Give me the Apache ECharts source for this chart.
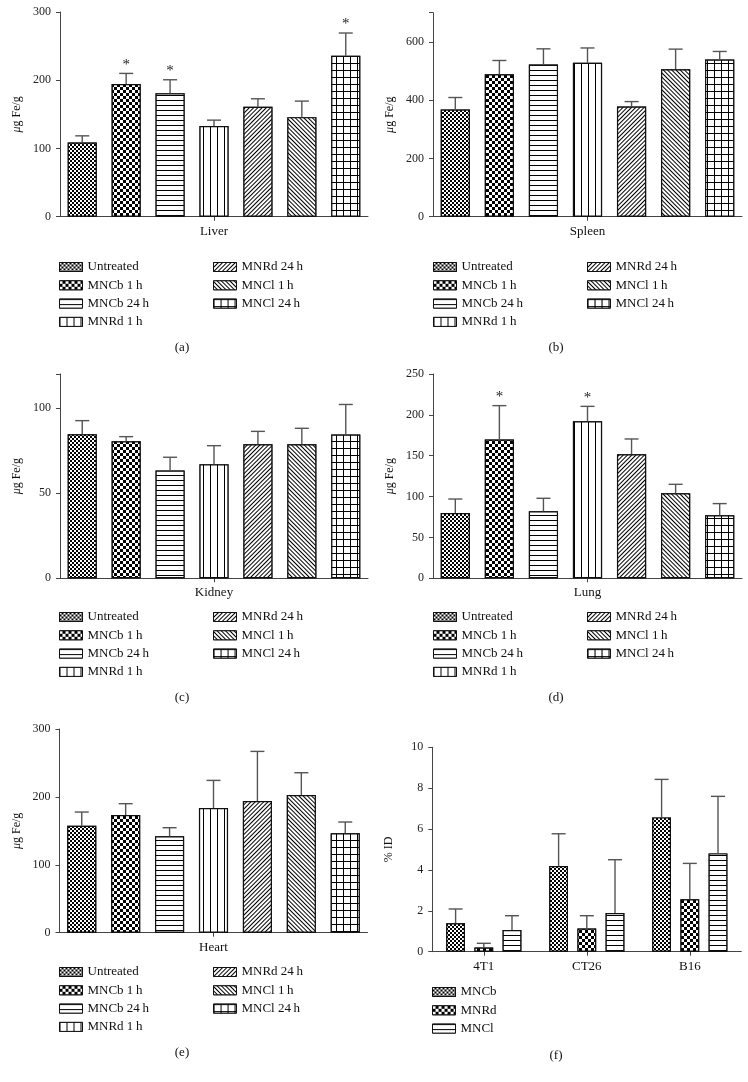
<!DOCTYPE html>
<html><head><meta charset="utf-8">
<script src="https://cdn.jsdelivr.net/npm/echarts/dist/echarts.min.js"></script>
<style>html,body{margin:0;padding:0;background:#fff}#c{width:748px;height:1082px}</style>
</head><body><div id="c"></div><script>
// ---------------- DATA ----------------
const organs = ['Liver', 'Spleen', 'Kidney', 'Lung', 'Heart'];
const treatments = ['Untreated', 'MNCb 1\u2009h', 'MNCb 24\u2009h', 'MNRd 1\u2009h', 'MNRd 24\u2009h', 'MNCl 1\u2009h', 'MNCl 24\u2009h'];

const liverMean  = [108.7, 194.3, 181.0, 133.0, 161.0, 145.9, 236.0];
const liverErr   = [9.8, 15.7, 19.7, 8.5, 11.8, 23.5, 33.2];
const liverSig   = [0, 1, 1, 0, 0, 0, 1];

const spleenMean = [368, 489, 522, 528, 378, 506, 539];
const spleenErr  = [41, 47, 54, 51, 17, 69, 28];
const spleenSig  = [0, 0, 0, 0, 0, 0, 0];

const kidneyMean = [84.6, 80.5, 63.3, 67.0, 78.7, 78.7, 84.4];
const kidneyErr  = [8.0, 2.7, 7.8, 10.9, 7.6, 9.4, 17.7];
const kidneySig  = [0, 0, 0, 0, 0, 0, 0];

const lungMean   = [79.9, 169.7, 82.0, 192.1, 151.7, 104.0, 77.1];
const lungErr    = [17.1, 41.6, 15.9, 18.3, 18.8, 11.0, 14.3];
const lungSig    = [0, 1, 0, 1, 0, 0, 0];

const heartMean  = [157.6, 173.3, 141.9, 183.6, 193.9, 202.7, 146.3];
const heartErr   = [20.1, 16.7, 12.7, 40.7, 73.1, 32.9, 16.7];
const heartSig   = [0, 0, 0, 0, 0, 0, 0];

const tumors = ['4T1', 'CT26', 'B16'];
const formulations = ['MNCb', 'MNRd', 'MNCl'];
const idMNCb = [1.39, 4.19, 6.57];
const idMNCbErr = [0.70, 1.58, 1.86];
const idMNRd = [0.20, 1.13, 2.56];
const idMNRdErr = [0.21, 0.63, 1.76];
const idMNCl = [1.06, 1.89, 4.81];
const idMNClErr = [0.70, 2.61, 2.79];

const yMax  = [300, 700, 120, 250, 300, 10];
const yStep = [100, 200, 50, 50, 100, 2];
const yNames = ['{i|\u03bc}g Fe/g', '{i|\u03bc}g Fe/g', '{i|\u03bc}g Fe/g', '{i|\u03bc}g Fe/g', '{i|\u03bc}g Fe/g', '% ID'];
const captions = ['(a)', '(b)', '(c)', '(d)', '(e)', '(f)'];

// ---------------- STYLE / LAYOUT ----------------
const SERIF = '"Liberation Serif", "DejaVu Serif", serif';
const AX = '#444';
const grids = [
  {left: 60,  top: 12,  width: 308, height: 204.7},
  {left: 433, top: 12.7, width: 309, height: 204},
  {left: 60,  top: 374, width: 308, height: 204.3},
  {left: 433, top: 374, width: 309, height: 204.3},
  {left: 59.5, top: 729, width: 308, height: 203.7},
  {left: 432.3, top: 747.3, width: 309, height: 204.4}
];
const decals = [
  {symbol: 'rect', symbolSize: 1, dashArrayX: [[2, 2], [0, 2, 2, 0]], dashArrayY: [2, 0], color: '#000', backgroundColor: '#fff'},
  {symbol: 'rect', symbolSize: 1, dashArrayX: [[3, 3], [0, 3, 3, 0]], dashArrayY: [3, 0], color: '#000', backgroundColor: '#fff'},
  {symbol: 'rect', symbolSize: 1, dashArrayX: [1, 0], dashArrayY: [1, 3.3], color: '#000', backgroundColor: '#fff'},
  {symbol: 'rect', symbolSize: 1, dashArrayX: [1, 6], dashArrayY: [1, 0], color: '#000', backgroundColor: '#fff'},
  {symbol: 'rect', symbolSize: 1, dashArrayX: [1, 0], dashArrayY: [1, 2], rotation: -Math.PI / 4, color: '#000', backgroundColor: '#fff'},
  {symbol: 'rect', symbolSize: 1, dashArrayX: [1, 0], dashArrayY: [1, 2], rotation: Math.PI / 4, color: '#000', backgroundColor: '#fff'},
  {symbol: 'rect', symbolSize: 1, dashArrayX: [[1, 0], [1, 6]], dashArrayY: [1, 0, 6, 0], color: '#000', backgroundColor: '#fff'}
];

const organMeans = [liverMean, spleenMean, kidneyMean, lungMean, heartMean];
const organErrs  = [liverErr, spleenErr, kidneyErr, lungErr, heartErr];
const organSigs  = [liverSig, spleenSig, kidneySig, lungSig, heartSig];

function errRenderer(n, catGap, barGap) {
  return function (params, api) {
    const cat = api.value(0), idx = api.value(1), mean = api.value(2), err = api.value(3), sig = api.value(4);
    const band = api.size([1, 0])[0];
    const usable = band * (1 - catGap);
    const bw = usable / (n + (n - 1) * barGap);
    const cx = api.coord([cat, 0])[0] - usable / 2 + idx * bw * (1 + barGap) + bw / 2;
    const yTop = api.coord([cat, mean + err])[1];
    const yMean = api.coord([cat, mean])[1];
    const ls = {stroke: '#555', lineWidth: 1.4};
    const children = [
      {type: 'line', shape: {x1: cx, y1: yMean, x2: cx, y2: yTop}, style: ls},
      {type: 'line', shape: {x1: cx - 7, y1: yTop, x2: cx + 7, y2: yTop}, style: ls}
    ];
    if (sig) {
      children.push({type: 'text', x: cx, y: yTop - 1,
        style: {text: '*', fill: '#222', font: '15px ' + SERIF, textAlign: 'center', textVerticalAlign: 'bottom'}});
    }
    return {type: 'group', children};
  };
}

const xAxes = [], yAxes = [], series = [], legends = [], graphics = [];
for (let p = 0; p < 6; p++) {
  xAxes.push({
    type: 'category', gridIndex: p,
    data: p < 5 ? [organs[p]] : tumors,
    axisLine: {lineStyle: {color: AX, width: 1}},
    axisTick: {show: true, alignWithLabel: true, length: 4, lineStyle: {color: AX}},
    axisLabel: {fontFamily: SERIF, fontSize: 13, color: '#111', margin: 8}
  });
  yAxes.push({
    type: 'value', gridIndex: p, min: 0, max: yMax[p], interval: yStep[p],
    name: yNames[p], nameLocation: 'middle', nameGap: 37,
    nameTextStyle: {fontFamily: SERIF, fontSize: 12, color: '#111',
      rich: {i: {fontFamily: SERIF, fontSize: 12, fontStyle: 'italic', color: '#111'}}},
    axisLine: {show: true, lineStyle: {color: AX, width: 1}},
    axisTick: {show: true, length: 4, lineStyle: {color: AX}},
    splitLine: {show: false},
    axisLabel: {fontFamily: SERIF, fontSize: 12, color: '#222', margin: 9,
      formatter: v => (v % yStep[p] === 0 ? String(v) : '')}
  });
}

for (let p = 0; p < 5; p++) {
  treatments.forEach((t, i) => {
    series.push({
      type: 'bar', name: t, xAxisIndex: p, yAxisIndex: p,
      data: [organMeans[p][i]],
      barCategoryGap: '5%', barGap: '51%',
      itemStyle: {color: '#fff', borderColor: '#111', borderWidth: 1.2, decal: decals[i]},
      emphasis: {disabled: true}
    });
  });
  series.push({
    type: 'custom', xAxisIndex: p, yAxisIndex: p, z: 5,
    renderItem: errRenderer(7, 0.05, 0.51),
    encode: {x: 0, y: 2},
    data: treatments.map((t, i) => [0, i, organMeans[p][i], organErrs[p][i], organSigs[p][i]])
  });
}
const fMeans = [idMNCb, idMNRd, idMNCl];
const fErrs = [idMNCbErr, idMNRdErr, idMNClErr];
formulations.forEach((f, i) => {
  series.push({
    type: 'bar', name: f, xAxisIndex: 5, yAxisIndex: 5, data: fMeans[i],
    barCategoryGap: '27%', barGap: '50%',
    itemStyle: {color: '#fff', borderColor: '#111', borderWidth: 1.2, decal: decals[i]},
    emphasis: {disabled: true}
  });
});
const fErrData = [];
tumors.forEach((tm, j) => formulations.forEach((f, i) => fErrData.push([j, i, fMeans[i][j], fErrs[i][j], 0])));
series.push({type: 'custom', xAxisIndex: 5, yAxisIndex: 5, z: 5,
  renderItem: errRenderer(3, 0.27, 0.5), encode: {x: 0, y: 2}, data: fErrData});

function legendCol(names, left, top) {
  return {data: names, orient: 'vertical', left, top, icon: 'rect', itemWidth: 23, itemHeight: 9,
    itemGap: 4.3, padding: 0, selectedMode: false,
    itemStyle: {borderWidth: 1},
    textStyle: {fontFamily: SERIF, fontSize: 13, color: '#111', lineHeight: 14}};
}
const legTops = [260, 260, 610, 610, 965];
const legLefts = [59, 433, 59, 433, 59];
for (let p = 0; p < 5; p++) {
  legends.push(legendCol(treatments.slice(0, 4), legLefts[p], legTops[p]));
  legends.push(legendCol(treatments.slice(4), legLefts[p] + 154, legTops[p]));
}
legends.push(legendCol(formulations, 432, 985));

const capPos = [[182, 348], [556, 348], [182, 698], [556, 698], [182, 1053], [556, 1056]];
captions.forEach((c, i) => graphics.push({type: 'text', x: capPos[i][0], y: capPos[i][1],
  style: {text: c, font: '13px ' + SERIF, fill: '#111', textAlign: 'center', textVerticalAlign: 'middle'}}));

const chart = echarts.init(document.getElementById('c'), null, {renderer: 'canvas'});
chart.setOption({
  animation: false,
  backgroundColor: '#fff',
  grid: grids,
  xAxis: xAxes,
  yAxis: yAxes,
  legend: legends,
  graphic: graphics,
  series: series
});
</script></body></html>
